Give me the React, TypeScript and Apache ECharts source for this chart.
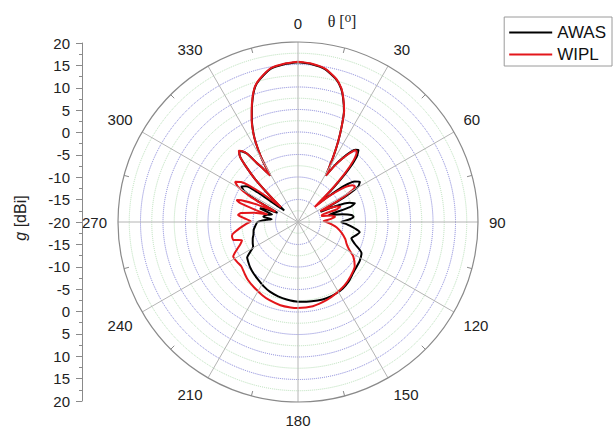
import React, { useEffect, useRef } from "react";
import * as echarts from "echarts";

const seriesNames = ["AWAS", "WIPL"];
const angleTickLabels = ["0", "30", "60", "90", "120", "150", "180", "210", "240", "270", "300", "330"];

const wiplAngles = [
  0, 5, 10, 15, 18, 20, 22.5, 24.6, 26.5, 28.4, 30, 31, 33, 35, 37, 38.5, 40, 42, 44, 46, 48,
  50, 53, 56, 58, 60, 62, 64, 66, 68, 70, 72, 74, 76, 79, 82, 85, 88, 90, 94, 98, 104, 110,
  114, 118, 122, 128, 136, 144, 152, 160, 170, 180, 185, 192, 200, 206, 214, 221, 226, 232,
  237, 242, 244, 249, 252, 254.5, 258, 260, 264, 268, 271, 274, 276.7, 279, 282, 284, 286,
  288, 289.7, 291, 293, 294.5, 296, 298, 300.5, 302.6, 305, 307, 309, 311, 313, 315, 317,
  318.4, 320.3, 321.5, 323.3, 325, 327, 329.2, 329.7, 330.5, 332, 333.3, 335.5, 337.5, 340,
  342.4, 345, 350, 355, 360,
];
const wiplGain = [
  15.6, 15.3, 14.6, 12.9, 11.2, 9.4, 6.8, 3.3, 0.0, -3.5, -6.5, -8.0, -5.2, -2.8, -0.8, 0.4, 0.3, -1.5, -5.0, -10.0, -15.0,
  -11.5, -7.5, -5.4, -5.1, -6.5, -10.0, -14.5, -12.5, -10.8, -10.0, -11.0, -14.5, -14.5, -12.5, -11.7, -12.8, -14.3, -13.7, -12.5, -11.3, -10.0, -8.8,
  -8.2, -7.2, -5.5, -4.0, -3.2, -2.5, -2.0, -1.5, -1.0, -0.9, -0.95, -1.1, -1.5, -1.9, -2.5, -3.0, -3.5, -4.0,
  -3.8, -3.7, -4.4, -6.3, -6.9, -5.1, -5.0, -5.4, -7.0, -8.5, -9.5, -8.0, -6.6, -7.2, -10.0, -13.0, -10.0,
  -6.5, -5.5, -6.5, -10.0, -14.5, -12.5, -8.0, -4.5, -3.4, -4.5, -7.0, -11.0, -15.0, -11.5, -6.5, -2.8,
  -0.6, 0.6, 0.2, -1.0, -3.8, -6.0, -8.0, -5.5, -3.0, 0.0, 2.1, 4.8, 6.9, 9.5,
  11.6, 12.9, 14.7, 15.3, 15.6,
];

const awasAngles = [
  0, 5, 10, 15, 18, 20, 22.5, 24.6, 26.5, 28.4, 30, 31, 33, 35, 37, 38.5, 40, 42, 44, 46, 48,
  50, 52, 54.5, 57, 59.5, 62, 64, 65.5, 67, 69.5, 71.8, 74, 76, 77.5, 80, 82.5, 84.5, 87, 90,
  93, 97, 99.5, 103, 107, 111, 116, 122, 128, 133, 140, 146, 152, 159, 166, 174, 180,
  188.3, 195, 202, 208, 214.4, 221, 227, 231, 235, 238, 241, 245, 250, 254, 260, 264, 270,
  274, 276, 278.7, 283, 286, 287.3, 289.8, 292, 294, 296, 298, 300, 302.1, 304.5, 306.5, 308,
  310, 312, 315, 317, 318.4, 320.3, 321.5, 323.3, 325, 327, 329.2, 329.7, 330.5, 332, 333.3,
  335.5, 337.5, 340, 342.4, 345, 350, 355, 360,
];
const awasGain = [
  15.5, 15.2, 14.5, 12.8, 11.1, 9.3, 6.7, 3.3, 0.0, -3.5, -6.5, -8.0, -5.0, -2.6, -0.5, 0.5, 0.9, -0.5, -4.0, -9.0, -14.0,
  -11.0, -7.0, -4.5, -3.6, -4.5, -8.5, -13.0, -14.5, -11.0, -7.8, -6.7, -8.0, -12.0, -13.0, -10.0, -8.0, -7.6, -8.5, -10.4,
  -9.0, -7.0, -6.1, -6.8, -7.6, -6.5, -4.3, -3.8, -3.6, -3.3, -2.6, -2.2, -2.0, -1.9, -2.0, -2.2, -2.3,
  -2.6, -2.9, -3.3, -3.8, -4.4, -4.9, -5.4, -5.8, -6.2, -7.5, -8.6, -8.9, -9.3, -9.7, -10.0, -10.4, -11.0,
  -13.0, -14.1, -12.2, -12.9, -14.0, -13.5, -11.0, -12.5, -15.0, -13.0, -9.0, -6.2, -5.2, -6.0, -9.5, -14.5,
  -16.0, -13.0, -6.5, -2.8, -0.6, 0.5, 0.1, -1.1, -3.9, -6.0, -8.0, -5.5, -3.0, 0.0, 2.0,
  4.7, 6.8, 9.4, 11.5, 12.8, 14.6, 15.2, 15.5,
];

const FONT = "'Liberation Sans', Arial, sans-serif";

function pairs(gain: number[], angles: number[]) {
  return gain.map((g, i) => [g, angles[i]]);
}

export default function App() {
  const ref = useRef<HTMLDivElement>(null);
  useEffect(() => {
    if (!ref.current) return;
    const chart = echarts.init(ref.current, null, { renderer: "svg" });
    const ringColors = ["#8080d8", "#8080d8", "#8080d8", "#8080d8", "#8080d8", "#8080d8", "#8080d8", "#8080d8", "rgba(0,0,0,0)"];
    chart.setOption({
      animation: false,
      backgroundColor: "#ffffff",
      polar: { center: [298, 222], radius: 180 },
      angleAxis: {
        type: "value",
        min: 0,
        max: 360,
        interval: 30,
        startAngle: 90,
        clockwise: true,
        z: 5,
        axisLine: { show: true, lineStyle: { color: "#8a8a8a", width: 1.2 } },
        axisTick: { show: false, inside: true },
        minorTick: { show: true, splitNumber: 2, length: 5, lineStyle: { color: "#8a8a8a" } },
        splitLine: { show: true, lineStyle: { color: "#b4b4b4", width: 1 } },
        axisLabel: {
          margin: 11,
          fontSize: 15,
          color: "#222",
          fontFamily: FONT,
          formatter: (v: number) => {
            const idx = Math.round(v / 30);
            return v >= 360 ? "" : angleTickLabels[idx] ?? "";
          },
        },
      },
      radiusAxis: {
        type: "value",
        min: -20,
        max: 20,
        interval: 5,
        axisLine: { show: false },
        axisTick: { show: false },
        axisLabel: { show: false },
        splitLine: { show: true, lineStyle: { color: ringColors, type: "dotted", width: 1 } },
        minorTick: { show: false, splitNumber: 2 },
        minorSplitLine: { show: true, lineStyle: { color: "#b8e0b8", type: "dotted", width: 1 } },
      },
      grid: { left: 82, top: 43, height: 358, width: 10 },
      xAxis: { type: "value", show: false },
      yAxis: {
        type: "value",
        min: -40,
        max: 40,
        interval: 5,
        position: "left",
        axisLine: { show: true, lineStyle: { color: "#8a8a8a" } },
        axisTick: { show: true, length: 6, lineStyle: { color: "#8a8a8a" } },
        minorTick: { show: true, splitNumber: 2, length: 3, lineStyle: { color: "#8a8a8a" } },
        splitLine: { show: false },
        axisLabel: {
          margin: 12,
          fontSize: 15,
          color: "#222",
          fontFamily: FONT,
          formatter: (v: number) => String(Math.abs(v) - 20),
        },
      },
      legend: {
        data: seriesNames,
        orient: "vertical",
        right: 1,
        top: 17,
        icon: "rect",
        itemWidth: 43,
        itemHeight: 2,
        itemGap: 5,
        padding: [7, 6, 3, 5],
        borderColor: "#9a9a9a",
        borderWidth: 1,
        textStyle: { fontSize: 17, color: "#111", fontFamily: FONT },
      },
      graphic: [
        {
          type: "text",
          x: 20,
          y: 218,
          rotation: Math.PI / 2,
          style: {
            text: "{i|g} [dBi]",
            fontSize: 16,
            fontFamily: FONT,
            fill: "#222",
            align: "center",
            verticalAlign: "middle",
            rich: { i: { fontStyle: "italic", fontSize: 16, fontFamily: FONT, fill: "#222" } },
          },
        },
        {
          type: "text",
          x: 342,
          y: 21,
          style: {
            text: "θ [⁰]",
            fontSize: 16,
            fontFamily: "'Liberation Serif', 'DejaVu Serif', serif",
            fill: "#222",
            align: "center",
            verticalAlign: "middle",
          },
        },
      ],
      series: [
        {
          name: seriesNames[0],
          type: "line",
          coordinateSystem: "polar",
          data: pairs(awasGain, awasAngles),
          symbol: "none",
          showSymbol: false,
          smooth: 0.2,
          lineStyle: { color: "#000000", width: 2 },
          itemStyle: { color: "#000000" },
          z: 3,
        },
        {
          name: seriesNames[1],
          type: "line",
          coordinateSystem: "polar",
          data: pairs(wiplGain, wiplAngles),
          symbol: "none",
          showSymbol: false,
          smooth: 0.2,
          lineStyle: { color: "#e3161b", width: 2 },
          itemStyle: { color: "#e3161b" },
          z: 4,
        },
      ],
    });
    return () => chart.dispose();
  }, []);
  return (
    <div
      ref={ref}
      style={{ position: "fixed", left: 0, top: 0, width: 613, height: 432, background: "#fff" }}
    />
  );
}
